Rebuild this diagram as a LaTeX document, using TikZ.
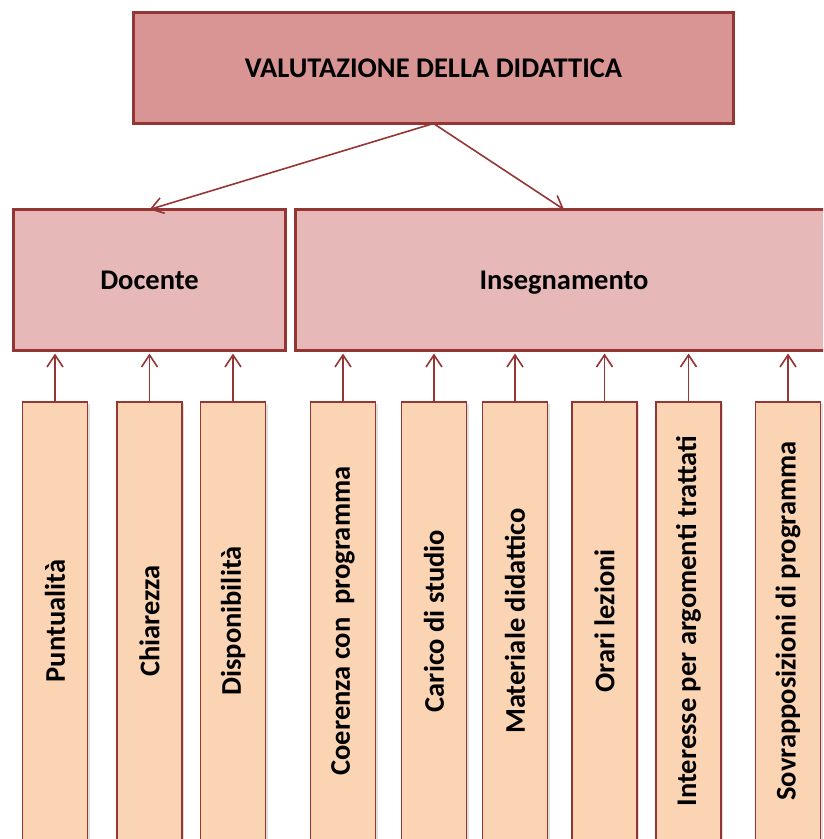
\documentclass[tikz,border=0pt]{standalone}
\usepackage{fontspec}
\newfontfamily\calibfont{Carlito}
\usetikzlibrary{arrows.meta,shadows}
\definecolor{bordo}{HTML}{943634}
\definecolor{rosso}{HTML}{D99594}
\definecolor{rosa}{HTML}{E6B9B8}
\definecolor{pesca}{HTML}{FBD4B4}
\begin{document}
\begin{tikzpicture}[x=1pt,y=-1pt,inner sep=0pt,outer sep=0pt,
font=\calibfont\bfseries\fontsize{28.5}{32}\selectfont,
topblock/.style={draw=bordo,fill=rosso,rectangle,line width=3.5pt,minimum width=600pt,minimum height=111pt,
  text height=19pt,text depth=0pt},
midblock/.style={draw=bordo,fill=rosa,rectangle,line width=3.5pt,minimum height=141pt,
  text height=19pt,text depth=0pt},
leafblock/.style={draw=bordo,fill=pesca,rectangle,line width=1.5pt,minimum width=65pt,minimum height=438pt,
  drop shadow={shadow xshift=2pt,shadow yshift=-2pt,opacity=0.25}},
freccia/.style={draw=bordo,line width=1.6pt,-{Straight Barb[length=12pt,width=16pt]}}]

\useasboundingbox (0,0) rectangle (823,839);
\clip (0,0) rectangle (823,839);

\draw (433.5,68) node[topblock] (valuta) {VALUTAZIONE DELLA DIDATTICA};
\draw (149.5,280) node[midblock,minimum width=272pt] (doc) {Docente};
\draw (564,280) node[midblock,minimum width=537pt] (ins) {Insegnamento};

\draw[freccia] (valuta.south) -- (doc.north);
\draw[freccia] (valuta.south) -- (ins.north);

% parametri del docente
\draw (55,621) node[leafblock] (punt) {\rotatebox{90}{Puntualità}};
\draw (149.5,621) node[leafblock] (chiar) {\rotatebox{90}{Chiarezza}};
\draw (233,621) node[leafblock] (disp) {\rotatebox{90}{Disponibilità}};

% parametri dell'insegnamento
\draw (343,621) node[leafblock] (coer) {\rotatebox{90}{Coerenza con\ \ programma}};
\draw (434,621) node[leafblock] (car) {\rotatebox{90}{Carico di studio}};
\draw (515,621) node[leafblock] (mat) {\rotatebox{90}{Materiale didattico}};
\draw (604.5,621) node[leafblock] (orari) {\rotatebox{90}{Orari lezioni}};
\draw (688.5,621) node[leafblock] (inter) {\rotatebox{90}{Interesse per argomenti trattati}};
\draw (788,621) node[leafblock] (sovr) {\rotatebox{90}{Sovrapposizioni di programma}};

\draw[freccia,shorten >=3pt] (punt.north) -- (punt.north |- doc.south);
\draw[freccia,shorten >=3pt] (chiar.north) -- (chiar.north |- doc.south);
\draw[freccia,shorten >=3pt] (disp.north) -- (disp.north |- doc.south);
\draw[freccia,shorten >=3pt] (coer.north) -- (coer.north |- ins.south);
\draw[freccia,shorten >=3pt] (car.north) -- (car.north |- ins.south);
\draw[freccia,shorten >=3pt] (mat.north) -- (mat.north |- ins.south);
\draw[freccia,shorten >=3pt] (orari.north) -- (orari.north |- ins.south);
\draw[freccia,shorten >=3pt] (inter.north) -- (inter.north |- ins.south);
\draw[freccia,shorten >=3pt] (sovr.north) -- (sovr.north |- ins.south);
\end{tikzpicture}
\end{document}
